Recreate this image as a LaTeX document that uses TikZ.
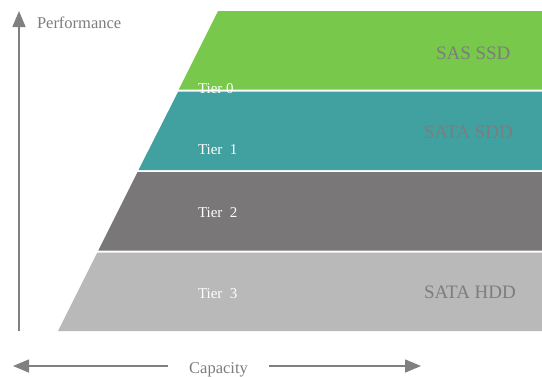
\documentclass[tikz,border=0pt]{standalone}
\usepackage{fontspec}
\setmainfont{Liberation Serif}
\usetikzlibrary{arrows.meta}

\definecolor{tierzero}{RGB}{120,200,75}
\definecolor{tierone}{RGB}{65,160,160}
\definecolor{tiertwo}{RGB}{121,119,119}
\definecolor{tierthree}{RGB}{186,185,185}
\definecolor{labelgray}{RGB}{125,125,125}
\definecolor{axisgray}{RGB}{128,128,128}

\begin{document}
\begin{tikzpicture}[x=1bp, y=-1bp]
\tikzset{ >={Triangle[length=16bp,width=13bp]}, inner sep=0pt, outer sep=0pt,
  axis/.style={draw=axisgray, line width=1.5bp},
  tierlabel/.style={anchor=base west, text=white, font=\fontsize{15bp}{18bp}\selectfont},
  medialabel/.style={anchor=base west, text=labelgray, font=\fontsize{19bp}{23bp}\selectfont},
  axislabel/.style={text=labelgray, font=\fontsize{16.5bp}{20bp}\selectfont} }

\fill [white] (0,0) rectangle (542,376);
\useasboundingbox (0,0) rectangle (542,376);

% tiers
\fill [tierzero]  (218,11)      -- (542,11)    -- (542,89.5)  -- (178.75,89.5) -- cycle;
\fill [tierone]   (178.25,91.5) -- (542,91.5)  -- (542,170)   -- (138.5,170)   -- cycle;
\fill [tiertwo]   (137.5,172)   -- (542,172)   -- (542,250.5) -- (98.25,250.5) -- cycle;
\fill [tierthree] (97.25,252.5) -- (542,252.5) -- (542,331)   -- (58,331)      -- cycle;

\node [tierlabel] (T0) at (198,93.5) {Tier 0};
\node [tierlabel] (T1) at (198,154)  {Tier~~1};
\node [tierlabel] (T2) at (198,217)  {Tier~~2};
\node [tierlabel] (T3) at (198,298)  {Tier~~3};

\node [medialabel] (SAS)   at (436,59)  {SAS SSD};
\node [medialabel] (SATAS) at (424,138) {SATA SDD};
\node [medialabel] (SATAH) at (424,298) {SATA HDD};

% axes
\coordinate (P0) at (19,331);
\coordinate (P1) at (19,11);
\draw [axis, ->] (P0) -- (P1);
\node [axislabel, anchor=base west] (perf) at (37,28) {Performance};

\coordinate (C0) at (13,366);
\coordinate (C1) at (421,366);
\node [axislabel, anchor=base, inner xsep=21bp] (cap) at (218.5,373.5) {Capacity};
\draw [axis, ->] (cap.west |- C0) -- (C0);
\draw [axis, ->] (cap.east |- C1) -- (C1);

\end{tikzpicture}
\end{document}
